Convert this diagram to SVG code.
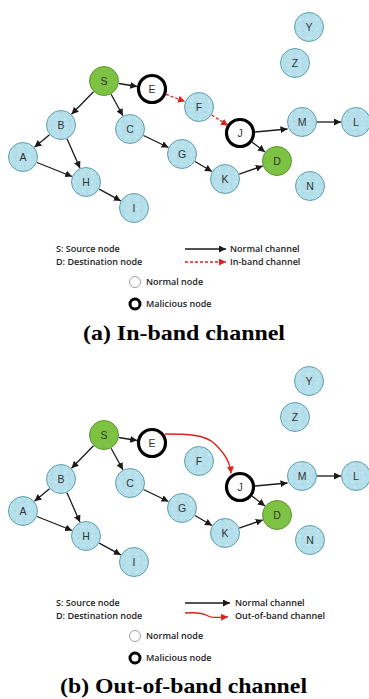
<svg xmlns="http://www.w3.org/2000/svg" width="369" height="699" viewBox="0 0 369 699">
  <defs>
    <pattern id="speckle" width="9" height="9" patternUnits="userSpaceOnUse">
      <rect width="9" height="9" fill="#b5dfea"/>
      <circle cx="2" cy="2" r="0.8" fill="#d9f1f7"/>
      <circle cx="6.5" cy="4" r="0.7" fill="#9bcddb"/>
      <circle cx="3.5" cy="7" r="0.7" fill="#cbe9f2"/>
      <circle cx="7.5" cy="8" r="0.5" fill="#a3d3df"/>
    </pattern>
    <marker id="arr" markerUnits="userSpaceOnUse" markerWidth="8" markerHeight="7" refX="7" refY="3.5" orient="auto">
      <path d="M0,0 L7,3.5 L0,7 z" fill="#1a1a1a"/>
    </marker>
    <marker id="arrR" markerUnits="userSpaceOnUse" markerWidth="8" markerHeight="7" refX="7" refY="3.5" orient="auto">
      <path d="M0,0 L7,3.5 L0,7 z" fill="#e0201c"/>
    </marker>
  </defs>
  <style>
    .n circle { fill: url(#speckle); stroke: #5f9fae; stroke-width: 1; }
    .g circle { fill: #7dc243; stroke: #5b9530; stroke-width: 1; }
    .m circle { fill: #ffffff; stroke: #000000; stroke-width: 3.2; }
    .n text, .g text, .m text { font-family: "Liberation Sans", Arial, sans-serif; font-size: 10.5px; fill: #333; text-anchor: middle; dominant-baseline: central; }
    .edge { stroke: #1a1a1a; stroke-width: 1.3; fill: none; marker-end: url(#arr); }
    .inband { stroke: #e0201c; stroke-width: 1.3; fill: none; stroke-dasharray: 3 2; marker-end: url(#arrR); }
    .oob { stroke: #e0201c; stroke-width: 1.4; fill: none; marker-end: url(#arrR); }
    .lg { font-family: "Open Sans", "Noto Sans", sans-serif; font-size: 9px; font-weight: 600; fill: #222; }
    .cap { font-family: "Liberation Serif", "Times New Roman", serif; font-size: 22px; font-weight: bold; fill: #000; }
  </style>

  <!-- Panel (a): in-band channel -->
  <g id="panel-a">
    <g id="a-edges">
      <line class="edge" x1="118.8" y1="83.5" x2="137.2" y2="86.5"/>
      <line class="edge" x1="93.5" y1="91.7" x2="71.5" y2="114.3"/>
      <line class="edge" x1="111.1" y1="94.2" x2="122.9" y2="115.8"/>
      <line class="edge" x1="49.5" y1="134.7" x2="34.5" y2="147.3"/>
      <line class="edge" x1="67" y1="138.7" x2="80" y2="168.3"/>
      <line class="edge" x1="37" y1="162.5" x2="72.1" y2="176.5"/>
      <line class="edge" x1="99.2" y1="189.1" x2="120.8" y2="200.9"/>
      <line class="edge" x1="143.5" y1="135.5" x2="168.5" y2="147.5"/>
      <line class="edge" x1="195" y1="161.5" x2="212" y2="171.5"/>
      <line class="edge" x1="239.2" y1="174.1" x2="262.8" y2="165.9"/>
      <line class="edge" x1="252" y1="142" x2="265" y2="152"/>
      <line class="edge" x1="255" y1="132" x2="287.5" y2="129"/>
      <line class="edge" x1="317" y1="122" x2="341" y2="122"/>
      <line class="inband" x1="166" y1="94.4" x2="185" y2="101.6"/>
      <line class="inband" x1="211.7" y1="115" x2="228" y2="125.5"/>
    </g>
    <g id="a-Y" class="n"><circle cx="309" cy="27" r="14.5"/><text x="309" y="27">Y</text></g>
    <g id="a-Z" class="n"><circle cx="295" cy="63" r="14.5"/><text x="295" y="63">Z</text></g>
    <g id="a-S" class="g"><circle cx="104" cy="81" r="14.5"/><text x="104" y="81">S</text></g>
    <g id="a-E" class="m"><circle cx="152" cy="89" r="13.5"/><text x="152" y="89">E</text></g>
    <g id="a-F" class="n"><circle cx="199" cy="107" r="14.5"/><text x="199" y="107">F</text></g>
    <g id="a-B" class="n"><circle cx="61" cy="125" r="14.5"/><text x="61" y="125">B</text></g>
    <g id="a-C" class="n"><circle cx="130" cy="129" r="14.5"/><text x="130" y="129">C</text></g>
    <g id="a-M" class="n"><circle cx="302" cy="122" r="14.5"/><text x="302" y="122">M</text></g>
    <g id="a-L" class="n"><circle cx="356" cy="122" r="14.5"/><text x="356" y="122">L</text></g>
    <g id="a-J" class="m"><circle cx="240" cy="133" r="13.5"/><text x="240" y="133">J</text></g>
    <g id="a-A" class="n"><circle cx="23" cy="157" r="14.5"/><text x="23" y="157">A</text></g>
    <g id="a-G" class="n"><circle cx="182" cy="154" r="14.5"/><text x="182" y="154">G</text></g>
    <g id="a-D" class="g"><circle cx="277" cy="161" r="14.5"/><text x="277" y="161">D</text></g>
    <g id="a-H" class="n"><circle cx="86" cy="182" r="14.5"/><text x="86" y="182">H</text></g>
    <g id="a-K" class="n"><circle cx="225" cy="179" r="14.5"/><text x="225" y="179">K</text></g>
    <g id="a-N" class="n"><circle cx="310" cy="186" r="14.5"/><text x="310" y="186">N</text></g>
    <g id="a-I" class="n"><circle cx="134" cy="208" r="14.5"/><text x="134" y="208">I</text></g>

    <g id="a-legend">
      <text class="lg" x="56" y="252">S: Source node</text>
      <text class="lg" x="56" y="265">D: Destination node</text>
      <line class="edge" x1="185" y1="249" x2="226" y2="249"/>
      <text class="lg" x="230" y="252">Normal channel</text>
      <line class="inband" x1="185" y1="262" x2="226" y2="262"/>
      <text class="lg" x="230" y="265">In-band channel</text>
      <circle cx="135" cy="282" r="5.5" fill="#fff" stroke="#888" stroke-width="0.8"/>
      <text class="lg" x="146" y="285">Normal node</text>
      <circle cx="135" cy="304" r="5" fill="#fff" stroke="#000" stroke-width="3"/>
      <text class="lg" x="146" y="307">Malicious node</text>
    </g>
    <text class="cap" x="83" y="340" textLength="202" lengthAdjust="spacingAndGlyphs">(a) In-band channel</text>
  </g>

  <!-- Panel (b): out-of-band channel -->
  <g id="panel-b" transform="translate(0,354)">
    <g id="b-edges">
      <line class="edge" x1="118.8" y1="83.5" x2="137.2" y2="86.5"/>
      <line class="edge" x1="93.5" y1="91.7" x2="71.5" y2="114.3"/>
      <line class="edge" x1="111.1" y1="94.2" x2="122.9" y2="115.8"/>
      <line class="edge" x1="49.5" y1="134.7" x2="34.5" y2="147.3"/>
      <line class="edge" x1="67" y1="138.7" x2="80" y2="168.3"/>
      <line class="edge" x1="37" y1="162.5" x2="72.1" y2="176.5"/>
      <line class="edge" x1="99.2" y1="189.1" x2="120.8" y2="200.9"/>
      <line class="edge" x1="143.5" y1="135.5" x2="168.5" y2="147.5"/>
      <line class="edge" x1="195" y1="161.5" x2="212" y2="171.5"/>
      <line class="edge" x1="239.2" y1="174.1" x2="262.8" y2="165.9"/>
      <line class="edge" x1="252" y1="142" x2="265" y2="152"/>
      <line class="edge" x1="255" y1="132" x2="287.5" y2="129"/>
      <line class="edge" x1="317" y1="122" x2="341" y2="122"/>
      <path class="oob" d="M165,80 C185,80 205,80 215,90 C225,100 230,108 231,119.5"/>
    </g>
    <g id="b-Y" class="n"><circle cx="309" cy="27" r="14.5"/><text x="309" y="27">Y</text></g>
    <g id="b-Z" class="n"><circle cx="295" cy="63" r="14.5"/><text x="295" y="63">Z</text></g>
    <g id="b-S" class="g"><circle cx="104" cy="81" r="14.5"/><text x="104" y="81">S</text></g>
    <g id="b-E" class="m"><circle cx="152" cy="89" r="13.5"/><text x="152" y="89">E</text></g>
    <g id="b-F" class="n"><circle cx="199" cy="107" r="14.5"/><text x="199" y="107">F</text></g>
    <g id="b-B" class="n"><circle cx="61" cy="125" r="14.5"/><text x="61" y="125">B</text></g>
    <g id="b-C" class="n"><circle cx="130" cy="129" r="14.5"/><text x="130" y="129">C</text></g>
    <g id="b-M" class="n"><circle cx="302" cy="122" r="14.5"/><text x="302" y="122">M</text></g>
    <g id="b-L" class="n"><circle cx="356" cy="122" r="14.5"/><text x="356" y="122">L</text></g>
    <g id="b-J" class="m"><circle cx="240" cy="133" r="13.5"/><text x="240" y="133">J</text></g>
    <g id="b-A" class="n"><circle cx="23" cy="157" r="14.5"/><text x="23" y="157">A</text></g>
    <g id="b-G" class="n"><circle cx="182" cy="154" r="14.5"/><text x="182" y="154">G</text></g>
    <g id="b-D" class="g"><circle cx="277" cy="161" r="14.5"/><text x="277" y="161">D</text></g>
    <g id="b-H" class="n"><circle cx="86" cy="182" r="14.5"/><text x="86" y="182">H</text></g>
    <g id="b-K" class="n"><circle cx="225" cy="179" r="14.5"/><text x="225" y="179">K</text></g>
    <g id="b-N" class="n"><circle cx="310" cy="186" r="14.5"/><text x="310" y="186">N</text></g>
    <g id="b-I" class="n"><circle cx="134" cy="208" r="14.5"/><text x="134" y="208">I</text></g>

    <g id="b-legend">
      <text class="lg" x="56" y="252">S: Source node</text>
      <text class="lg" x="56" y="265">D: Destination node</text>
      <line class="edge" x1="185" y1="249" x2="230" y2="249"/>
      <text class="lg" x="235" y="252">Normal channel</text>
      <path class="oob" d="M185,259 C198,258 203,259 207,261.5 C211,264 216,263.5 228,263"/>
      <text class="lg" x="235" y="265">Out-of-band channel</text>
      <circle cx="135" cy="282" r="5.5" fill="#fff" stroke="#888" stroke-width="0.8"/>
      <text class="lg" x="146" y="285">Normal node</text>
      <circle cx="135" cy="304" r="5" fill="#fff" stroke="#000" stroke-width="3"/>
      <text class="lg" x="146" y="307">Malicious node</text>
    </g>
    <text class="cap" x="60" y="339" textLength="247" lengthAdjust="spacingAndGlyphs">(b) Out-of-band channel</text>
  </g>
</svg>
